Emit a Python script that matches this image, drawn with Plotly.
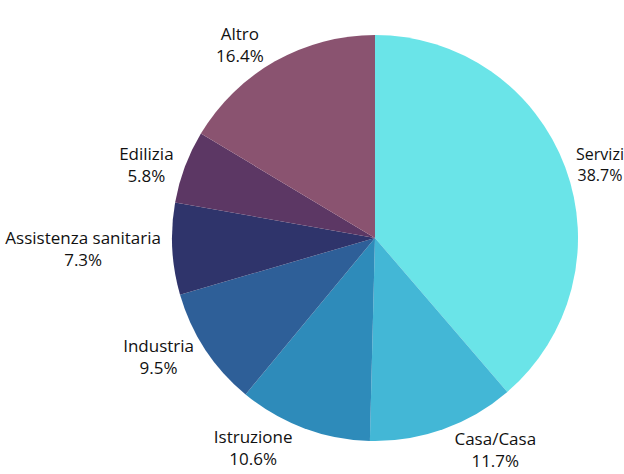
import plotly.graph_objects as go

categories = ["Servizi", "Casa/Casa", "Istruzione", "Industria", "Assistenza sanitaria", "Edilizia", "Altro"]
values = [38.7, 11.7, 10.6, 9.5, 7.3, 5.8, 16.4]
colors = ["#6ae4e8", "#43b7d6", "#2e8bba", "#2e5f98", "#2f346b", "#5c3764", "#8a5370"]
label_sizes = [16, 17, 17, 17, 17, 17, 17]

fig = go.Figure(go.Pie(
    labels=categories,
    values=values,
    sort=False,
    direction="clockwise",
    rotation=0,
    marker=dict(colors=colors, line=dict(width=0)),
    textposition="outside",
    texttemplate="%{label}<br>%{value:.1f}%",
    textfont=dict(family="Open Sans", size=label_sizes, color="#111111"),
    hoverinfo="label+percent",
    showlegend=False,
    domain=dict(x=[0.2756, 0.9263], y=[0.0696, 0.9262]),
    automargin=False,
))

fig.update_layout(
    width=624, height=474,
    margin=dict(l=0, r=0, t=0, b=0),
    paper_bgcolor="white",
    plot_bgcolor="white",
    showlegend=False,
)

fig.write_html(
    "out.html",
    config={"displayModeBar": False},
    post_script="document.body.style.margin='0';document.body.style.overflow='hidden';",
)
